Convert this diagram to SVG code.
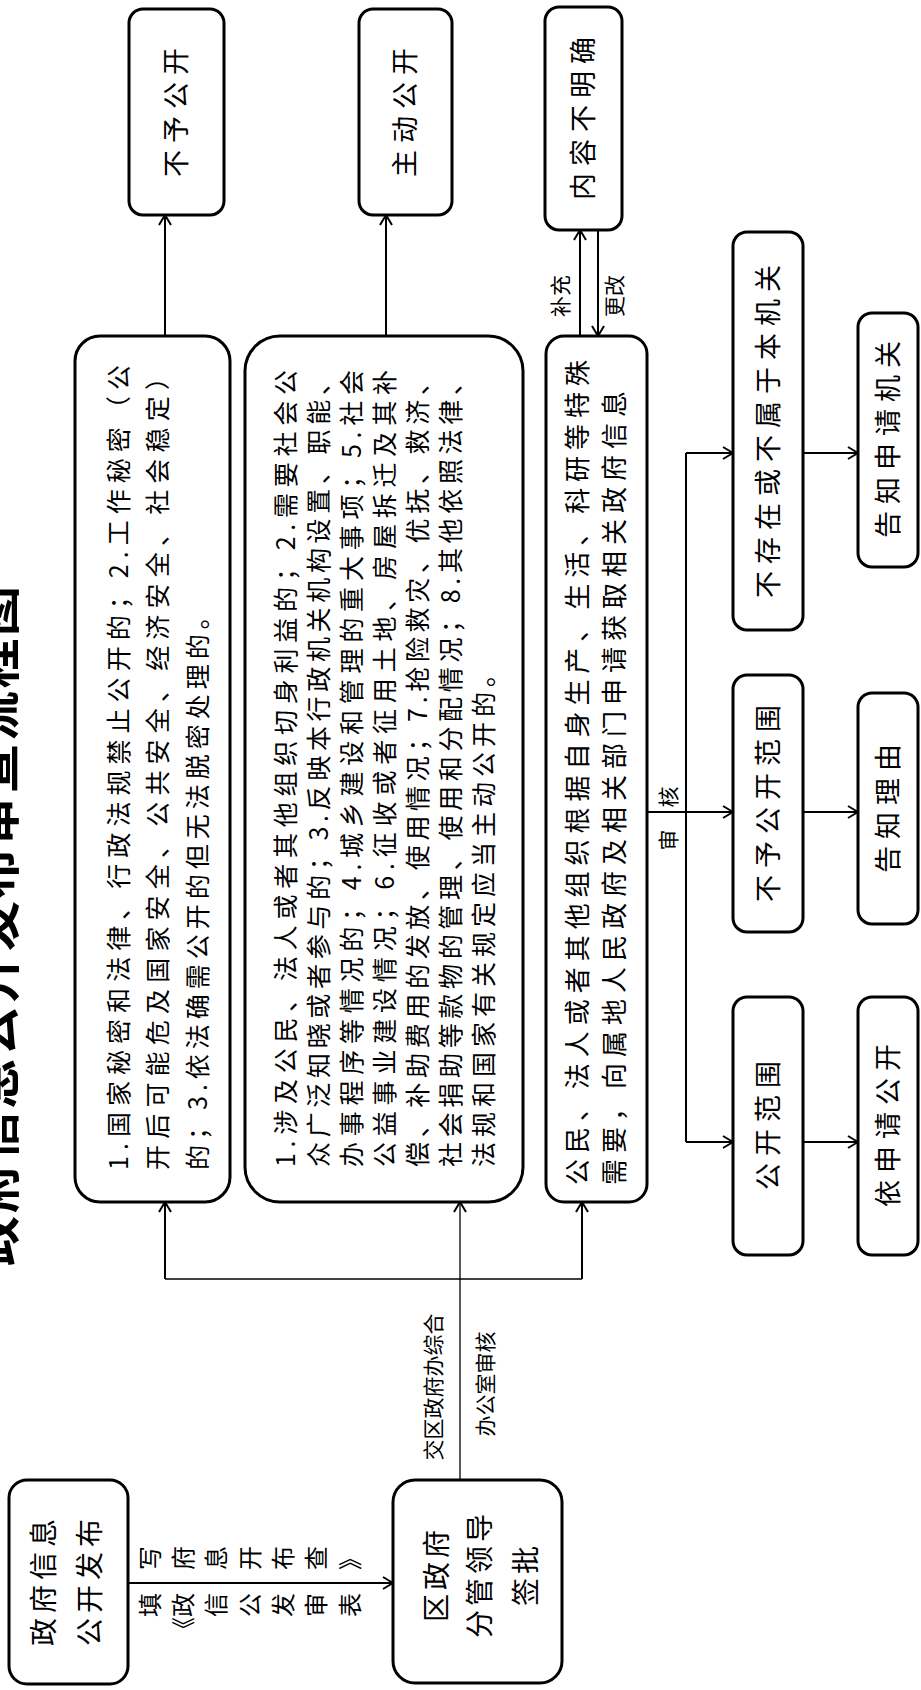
<svg xmlns="http://www.w3.org/2000/svg" width="921" height="1690" viewBox="0 0 921 1690">
<style>
.bx{fill:#fff;stroke:#000;stroke-width:3}
.t{font-family:"Noto Sans CJK SC","Noto Sans",sans-serif;fill:#000}
.b{font-size:25px}
.s{font-size:27px;letter-spacing:7px}
.l{font-size:21px}
.c{stroke:#000;stroke-width:2;fill:none}
.c1{stroke:#000;stroke-width:1.3;fill:none}
</style>
<defs>
<marker id="ah" viewBox="0 0 12 14" refX="11" refY="7" markerWidth="12" markerHeight="14" markerUnits="userSpaceOnUse" orient="auto">
<path d="M1,1 L11,7 L1,13" fill="none" stroke="#000" stroke-width="2"/>
</marker>
</defs>
<rect width="921" height="1690" fill="#fff"/>
<g transform="translate(0,1690) rotate(-90)">
<text id="title" class="t" x="764" y="14" font-size="50" font-weight="bold" text-anchor="middle" textLength="680" lengthAdjust="spacing">政府信息公开发布审查流程图</text>

<g id="connectors">
<line class="c" x1="107" y1="128" x2="107" y2="393" marker-end="url(#ah)"/>
<line class="c1" x1="210" y1="460" x2="488" y2="460" marker-end="url(#ah)"/>
<line class="c1" x1="411" y1="165" x2="411" y2="582"/>
<line class="c" x1="411" y1="165" x2="488" y2="165" marker-end="url(#ah)"/>
<line class="c" x1="411" y1="582" x2="488" y2="582" marker-end="url(#ah)"/>
<line class="c" x1="1354" y1="165" x2="1475" y2="165" marker-end="url(#ah)"/>
<line class="c" x1="1354" y1="386" x2="1475" y2="386" marker-end="url(#ah)"/>
<line class="c" x1="1354" y1="580" x2="1460" y2="580" marker-end="url(#ah)"/>
<line class="c" x1="1460" y1="598" x2="1354" y2="598" marker-end="url(#ah)"/>
<line class="c" x1="878" y1="647" x2="878" y2="733" marker-end="url(#ah)"/>
<line class="c" x1="548" y1="686" x2="1237" y2="686"/>
<line class="c" x1="1237" y1="686" x2="1237" y2="733" marker-end="url(#ah)"/>
<line class="c" x1="548" y1="686" x2="548" y2="733" marker-end="url(#ah)"/>
<line class="c" x1="1237" y1="803" x2="1237" y2="858" marker-end="url(#ah)"/>
<line class="c" x1="878" y1="803" x2="878" y2="858" marker-end="url(#ah)"/>
<line class="c" x1="548" y1="803" x2="548" y2="858" marker-end="url(#ah)"/>
<g class="t" font-size="24">
<text x="97" y="159" text-anchor="end">填</text><text x="120" y="159">写</text>
<text x="97" y="192" text-anchor="end">《政</text><text x="120" y="192">府</text>
<text x="97" y="225" text-anchor="end">信</text><text x="120" y="225">息</text>
<text x="97" y="259" text-anchor="end">公</text><text x="120" y="259">开</text>
<text x="97" y="292" text-anchor="end">发</text><text x="120" y="292">布</text>
<text x="97" y="325" text-anchor="end">审</text><text x="120" y="325">查</text>
<text x="97" y="359" text-anchor="end">表</text><text x="120" y="359">》</text>
</g>
<text class="t l" x="303" y="441" text-anchor="middle">交区政府办综合</text>
<text class="t l" x="306" y="493" text-anchor="middle">办公室审核</text>
<text class="t l" x="1394" y="568" text-anchor="middle">补充</text>
<text class="t l" x="1394" y="622" text-anchor="middle">更改</text>
<text class="t l" x="893" y="676" text-anchor="middle">核</text>
<text class="t l" x="850" y="676" text-anchor="middle">审</text>
</g>

<g id="nodeA">
<rect class="bx" x="6" y="9" width="204" height="119" rx="18"/>
<text class="t" font-size="28" letter-spacing="5" x="110" y="54" text-anchor="middle">政府信息</text>
<text class="t" font-size="28" letter-spacing="5" x="110" y="100" text-anchor="middle">公开发布</text>
</g>
<g id="nodeB">
<rect class="bx" x="7" y="393" width="203" height="169" rx="22"/>
<text class="t" font-size="28" letter-spacing="4" x="116" y="447" text-anchor="middle">区政府</text>
<text class="t" font-size="28" letter-spacing="4" x="116" y="490" text-anchor="middle">分管领导</text>
<text class="t" font-size="28" letter-spacing="4" x="116" y="536" text-anchor="middle">签批</text>
</g>
<g id="node1">
<rect class="bx" x="488" y="75" width="866" height="155" rx="25"/>
<text class="t b" x="520" y="128" textLength="805" lengthAdjust="spacing">1.国家秘密和法律、行政法规禁止公开的；2.工作秘密（公</text>
<text class="t b" x="520" y="167" textLength="805" lengthAdjust="spacing">开后可能危及国家安全、公共安全、经济安全、社会稳定）</text>
<text class="t b" x="520" y="207" letter-spacing="5">的；3.依法确需公开的但无法脱密处理的。</text>
</g>
<g id="node2">
<rect class="bx" x="488" y="245" width="866" height="278" rx="35"/>
<text class="t b" x="523" y="295" textLength="797" lengthAdjust="spacing">1.涉及公民、法人或者其他组织切身利益的；2.需要社会公</text>
<text class="t b" x="523" y="328" textLength="797" lengthAdjust="spacing">众广泛知晓或者参与的；3.反映本行政机关机构设置、职能、</text>
<text class="t b" x="523" y="361" textLength="797" lengthAdjust="spacing">办事程序等情况的；4.城乡建设和管理的重大事项；5.社会</text>
<text class="t b" x="523" y="394" textLength="797" lengthAdjust="spacing">公益事业建设情况；6.征收或者征用土地、房屋拆迁及其补</text>
<text class="t b" x="523" y="427" textLength="797" lengthAdjust="spacing">偿、补助费用的发放、使用情况；7.抢险救灾、优抚、救济、</text>
<text class="t b" x="523" y="460" textLength="797" lengthAdjust="spacing">社会捐助等款物的管理、使用和分配情况；8.其他依照法律、</text>
<text class="t b" x="523" y="493" letter-spacing="5">法规和国家有关规定应当主动公开的。</text>
</g>
<g id="node3">
<rect class="bx" x="488" y="546" width="866" height="101" rx="18"/>
<text class="t" font-size="26" x="505" y="587" textLength="825" lengthAdjust="spacing">公民、法人或者其他组织根据自身生产、生活、科研等特殊</text>
<text class="t" font-size="26" x="505" y="624" letter-spacing="6">需要，向属地人民政府及相关部门申请获取相关政府信息</text>
</g>
<g id="nodeNoPub">
<rect class="bx" x="1475" y="129" width="206" height="95" rx="14"/>
<text class="t s" x="1581" y="186" text-anchor="middle">不予公开</text>
</g>
<g id="nodeActive">
<rect class="bx" x="1475" y="359" width="206" height="93" rx="14"/>
<text class="t s" x="1581" y="415" text-anchor="middle">主动公开</text>
</g>
<g id="nodeUnclear">
<rect class="bx" x="1460" y="545" width="223" height="77" rx="14"/>
<text class="t s" x="1575" y="593" text-anchor="middle">内容不明确</text>
</g>
<g id="nodeNotExist">
<rect class="bx" x="1060" y="733" width="398" height="70" rx="14"/>
<text class="t s" x="1262" y="778" text-anchor="middle">不存在或不属于本机关</text>
</g>
<g id="nodeNoRange">
<rect class="bx" x="758" y="733" width="257" height="70" rx="14"/>
<text class="t s" x="890" y="778" text-anchor="middle">不予公开范围</text>
</g>
<g id="nodeRange">
<rect class="bx" x="435" y="733" width="258" height="70" rx="14"/>
<text class="t s" x="568" y="778" text-anchor="middle">公开范围</text>
</g>
<g id="nodeTellOrg">
<rect class="bx" x="1123" y="858" width="254" height="60" rx="14"/>
<text class="t s" x="1254" y="898" text-anchor="middle">告知申请机关</text>
</g>
<g id="nodeTellReason">
<rect class="bx" x="766" y="858" width="231" height="60" rx="14"/>
<text class="t s" x="885" y="898" text-anchor="middle">告知理由</text>
</g>
<g id="nodeApply">
<rect class="bx" x="435" y="858" width="258" height="60" rx="14"/>
<text class="t s" x="568" y="898" text-anchor="middle">依申请公开</text>
</g>
</g>
</svg>
